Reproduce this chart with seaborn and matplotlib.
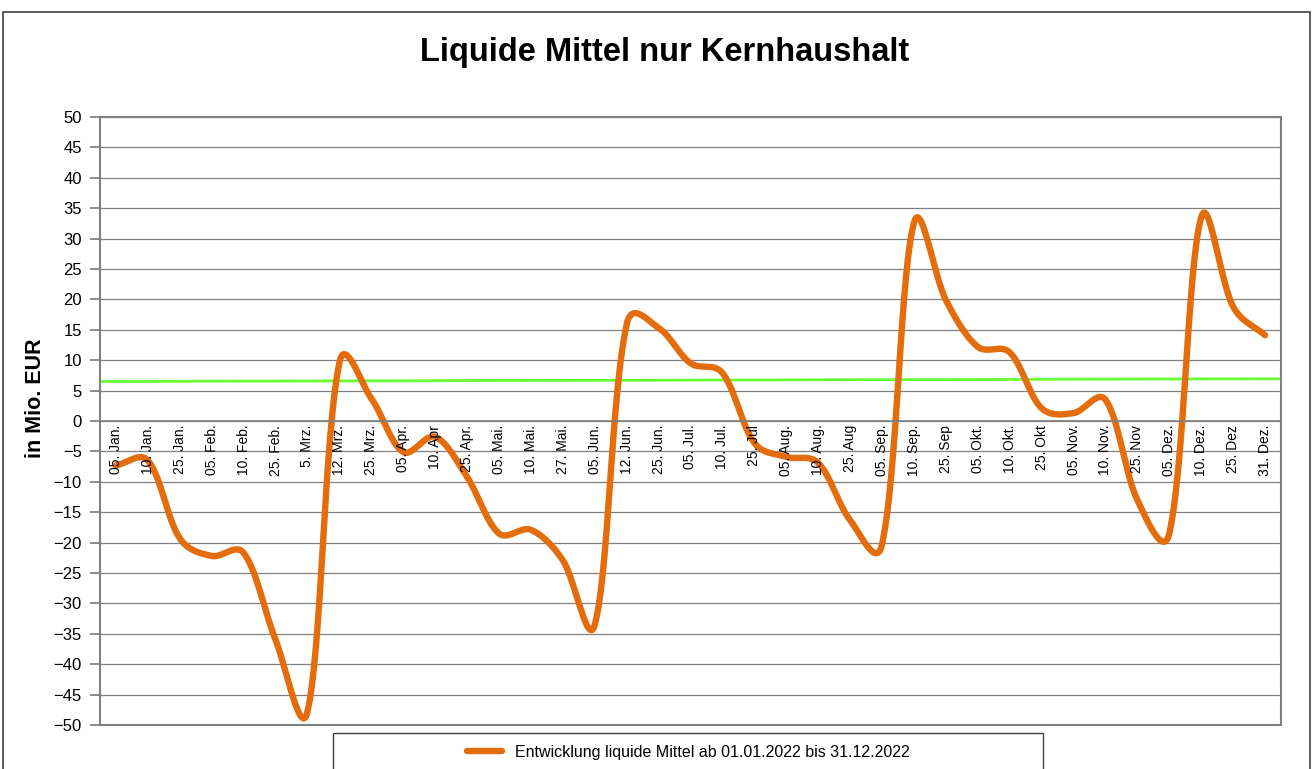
import numpy as np
import pandas as pd
import matplotlib
matplotlib.use('Agg')
import matplotlib.pyplot as plt
import seaborn as sns
from matplotlib.patches import Rectangle

# Daten
dates = ['05. Jan.', '10. Jan.', '25. Jan.', '05. Feb.', '10. Feb.', '25. Feb.', '5. Mrz.',
         '12. Mrz.', '25. Mrz.', '05. Apr.', '10. Apr', '25. Apr.', '05. Mai.', '10. Mai.',
         '27. Mai.', '05. Jun.', '12. Jun.', '25. Jun.', '05. Jul.', '10. Jul.', '25. Jul',
         '05. Aug.', '10. Aug.', '25. Aug', '05. Sep.', '10. Sep.', '25. Sep', '05. Okt.',
         '10. Okt.', '25. Okt', '05. Nov.', '10. Nov.', '25. Nov', '05. Dez.', '10. Dez.',
         '25. Dez', '31. Dez.']
values = [-7.3, -6.5, -19.3, -22.2, -21.7, -36.0, -47.8, 9.6, 3.7, -5.1, -2.6, -9.2,
          -18.5, -17.9, -22.9, -33.5, 15.9, 15.3, 9.5, 7.9, -3.6, -5.9, -6.9, -16.3,
          -20.3, 32.6, 19.9, 12.2, 11.3, 2.1, 1.3, 3.5, -13.0, -18.5, 33.5, 18.8, 14.1]
trend_values = [6.5, 6.95]
series_label = 'Entwicklung liquide Mittel ab 01.01.2022 bis 31.12.2022'


def excel_smooth(y, sx=31.9, sy=6.08, a=0.5, n=30):
    # Bezier-Glaettung wie in Excel, Tangenten nach Sehnenlaenge gewichtet
    P = np.column_stack([np.arange(len(y)) * sx, np.asarray(y) * sy])
    N = len(P)
    t = np.linspace(0, 1, n, endpoint=False)[:, None]
    out = []
    for i in range(N - 1):
        p1, p2 = P[i], P[i + 1]
        p0 = P[i - 1] if i > 0 else p1
        p3 = P[i + 2] if i + 2 < N else p2
        d01 = np.linalg.norm(p1 - p0) ** a
        d12 = np.linalg.norm(p2 - p1) ** a
        d23 = np.linalg.norm(p3 - p2) ** a
        c1 = p1 + (p2 - p0) * d12 / (d01 + d12) / 3
        c2 = p2 - (p3 - p1) * d12 / (d12 + d23) / 3
        out.append((1 - t) ** 3 * p1 + 3 * (1 - t) ** 2 * t * c1
                   + 3 * (1 - t) * t ** 2 * c2 + t ** 3 * p2)
    out.append(P[-1:])
    pts = np.vstack(out)
    return pts[:, 0] / sx, pts[:, 1] / sy


lx, ly = excel_smooth(values)
df_line = pd.DataFrame({'pos': lx, 'wert': ly})
df_trend = pd.DataFrame({'pos': [-0.5, len(dates) - 0.5], 'wert': trend_values})

sns.set_theme(style='white')
plt.rcParams['font.family'] = ['Liberation Sans', 'DejaVu Sans']
plt.rcParams['text.color'] = 'black'
plt.rcParams['axes.labelcolor'] = 'black'

fig = plt.figure(figsize=(13.14, 7.69), dpi=100)
ax = fig.add_axes([100 / 1314, 44 / 769, 1181 / 1314, 608 / 769])

sns.lineplot(data=df_trend, x='pos', y='wert', ax=ax, color='#66ff33', lw=2, legend=False)
sns.lineplot(data=df_line, x='pos', y='wert', ax=ax, color='#e46c0a', lw=4.6,
             sort=False, label=series_label, legend=False, solid_capstyle='round')

ax.set_xlim(-0.5, len(dates) - 0.5)
ax.set_ylim(-50, 50)
ax.set_yticks(np.arange(-50, 51, 5))
ax.yaxis.grid(True, color='#808080', lw=0.9)
ax.set_axisbelow(True)

# Kategorieachse bei 0
ax.spines['bottom'].set_position(('data', 0))
ax.spines['bottom'].set_color('#808080')
ax.set_xticks(np.arange(len(dates) + 1) - 0.5)
ax.set_xticklabels([])
ax.tick_params(axis='x', direction='out', length=5, color='#808080', width=1)
for i, d in enumerate(dates):
    ax.text(i, -0.6, d, rotation=90, ha='center', va='top', fontsize=10, color='black')

for s in ['top', 'right', 'left']:
    ax.spines[s].set_color('#808080')
ax.add_patch(Rectangle((0, 0), 1, 1, transform=ax.transAxes, fill=False,
                       edgecolor='#808080', lw=1.5, clip_on=False))
ax.tick_params(axis='y', left=True, direction='out', length=7, color='#808080',
               labelsize=12, labelcolor='black', pad=6)

ax.set_xlabel('')
ax.set_ylabel('in Mio. EUR', fontsize=15.5, fontweight='bold')
ax.yaxis.set_label_coords(-0.0457, 0.538)

fig.text(665 / 1314, 1 - 52 / 769, 'Liquide Mittel nur Kernhaushalt', ha='center',
         va='center', fontsize=23.5, fontweight='bold')

# Rahmen Diagrammbereich und Legendenfeld
fig.patches.append(Rectangle((3 / 1314, -0.1), 1307 / 1314, 1.1 - 12 / 769,
                             transform=fig.transFigure, fill=False, edgecolor='#404040',
                             lw=1.2))
fig.patches.append(Rectangle((333 / 1314, -0.05), 710 / 1314, 0.05 + 36 / 769,
                             transform=fig.transFigure, fill=False, edgecolor='#404040',
                             lw=1))
handles, labels = ax.get_legend_handles_labels()
fig.legend(handles, labels, loc='center', bbox_to_anchor=(688 / 1314, 1 - 752 / 769),
           frameon=False, fontsize=11.5, handlelength=2.2)

fig.savefig('out.png', dpi=100)
